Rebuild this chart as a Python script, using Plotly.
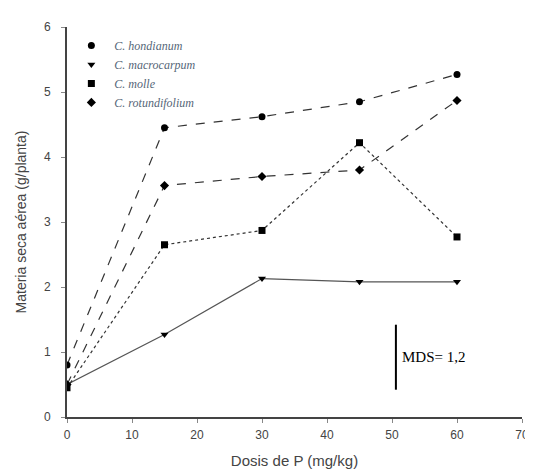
import plotly.graph_objects as go

dosis = [0, 15, 30, 45, 60]
hondianum = [0.80, 4.45, 4.62, 4.85, 5.27]
macrocarpum = [0.50, 1.27, 2.13, 2.08, 2.08]
molle = [0.45, 2.65, 2.87, 4.22, 2.77]
rotundifolium = [0.50, 3.56, 3.70, 3.80, 4.87]

names = ["C. hondianum", "C. macrocarpum", "C. molle", "C. rotundifolium"]
series = [hondianum, macrocarpum, molle, rotundifolium]
symbols = ["circle", "triangle-down", "square", "diamond"]
dashes = ["dash", "solid", "dot", "dash"]
line_colors = ["#333333", "#555555", "#333333", "#333333"]

mds_x = 50.6
mds_y = [0.42, 1.42]

fig = go.Figure()
for n, s, sym, d, c in zip(names, series, symbols, dashes, line_colors):
    fig.add_trace(go.Scatter(
        x=dosis, y=s, name=n, mode="lines+markers", showlegend=False,
        line=dict(color=c, width=1.2, dash=d),
        marker=dict(symbol=sym, size=7, color="black"),
    ))
for n, sym in zip(names, symbols):
    fig.add_trace(go.Scatter(
        x=[None], y=[None], name="<i>" + n + "</i>", mode="markers",
        marker=dict(symbol=sym, size=7, color="black"),
    ))

fig.add_shape(type="line", x0=mds_x, x1=mds_x, y0=mds_y[0], y1=mds_y[1],
              xref="x", yref="y", line=dict(color="black", width=2))
fig.add_annotation(x=mds_x, y=(mds_y[0] + mds_y[1]) / 2, xref="x", yref="y",
                   text="MDS= 1,2", showarrow=False, xanchor="left", xshift=4,
                   font=dict(family="Liberation Serif", size=15, color="black"))

fig.update_layout(
    width=533, height=476,
    margin=dict(l=58, r=12, t=12, b=67),
    paper_bgcolor="white", plot_bgcolor="white",
    showlegend=True,
    legend=dict(x=0.003, y=0.99, xanchor="left", yanchor="top",
                font=dict(family="Liberation Serif", size=12, color="#556677"),
                bgcolor="rgba(0,0,0,0)", itemwidth=36, tracegroupgap=0),
    font=dict(family="Liberation Sans", size=12, color="#444444"),
)
fig.update_xaxes(range=[0, 70], tickvals=[0, 10, 20, 30, 40, 50, 60, 70],
                 showgrid=False, zeroline=False, showline=True,
                 linecolor="#444444", linewidth=2, ticks="outside",
                 ticklen=4, tickcolor="#888888", ticklabelstandoff=2,
                 title=dict(text="Dosis de P (mg/kg)", font=dict(size=15), standoff=14))
fig.update_yaxes(range=[0, 6], tickvals=[0, 1, 2, 3, 4, 5, 6],
                 showgrid=False, zeroline=False, showline=True,
                 linecolor="#444444", linewidth=2, ticks="outside",
                 ticklen=4, tickcolor="#888888", ticklabelstandoff=8,
                 title=dict(text="Materia seca aérea (g/planta)", font=dict(size=14), standoff=14))

fig.write_html("out.html")
